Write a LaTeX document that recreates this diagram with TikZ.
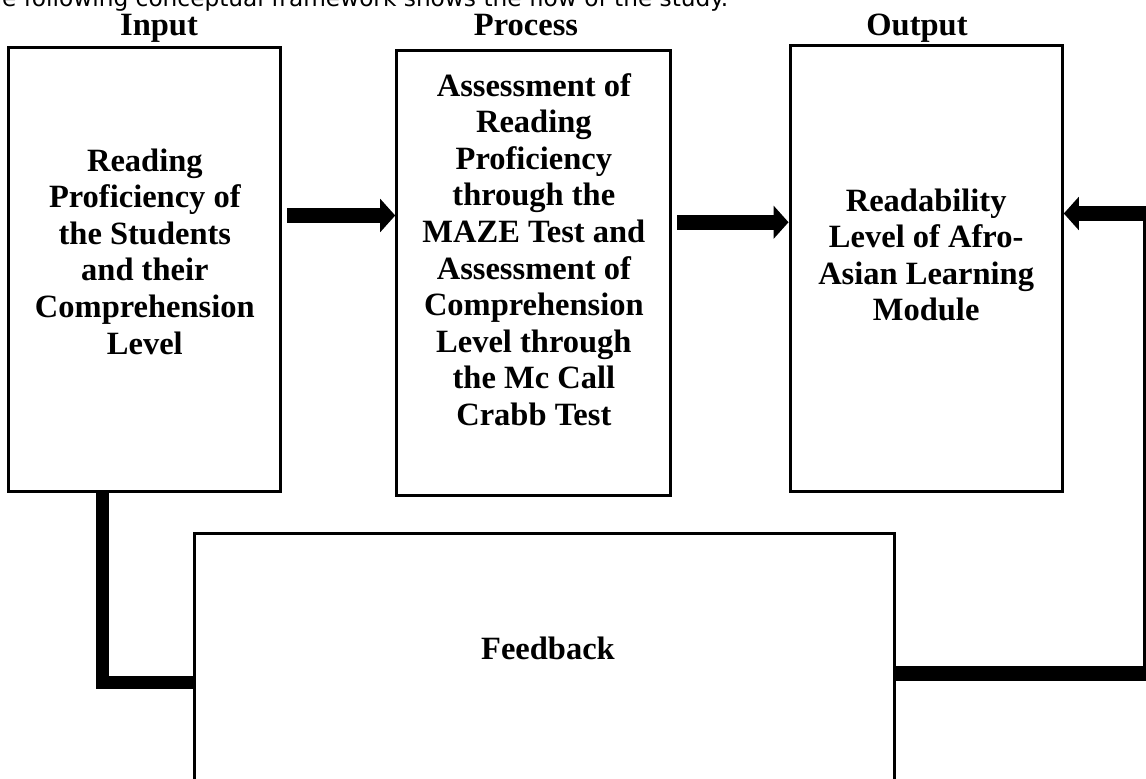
\documentclass[tikz,border=0pt]{standalone}
\usepackage{fontspec}
\setmainfont{Liberation Serif}
\newfontfamily\notefont{DejaVu Sans}
\usetikzlibrary{positioning,arrows.meta}

\begin{document}
\begin{tikzpicture}[x=0.4pt,y=-0.4pt,
        framenode/.style={rectangle, draw=black, line width=1.2pt, inner sep=0pt},
        boxtext/.style={align=center, font=\bfseries\fontsize{13}{14.64}\selectfont},
        headtext/.style={font=\bfseries\fontsize{13}{14.64}\selectfont, anchor=base},
        bigarrow/.style={line width=6pt, -{Triangle[length=6pt,width=13pt]}},
        bigline/.style={line width=5.2pt}]
        \useasboundingbox (0,0) rectangle (1146,779);
        \node[font=\notefont\fontsize{9.3}{11}\selectfont, anchor=base east] (note) at (737,7) {The following conceptual framework shows the flow of the study.};
        % the three columns
        \node[framenode, minimum width=108.9pt, minimum height=177.8pt] (input) at (144.85,269.5) {};
        \node[framenode, minimum width=109.7pt, minimum height=177.8pt] (process) at (533.85,273.25) {};
        \node[framenode, minimum width=108.9pt, minimum height=178.3pt] (output) at (926.15,268.85) {};
        \node[framenode, minimum width=279.9pt, minimum height=128pt, anchor=north west] (feedback) at (193,532) {};
        \node[headtext] (inputhead) at (159,36) {Input};
        \node[headtext] (processhead) at (526,36) {Process};
        \node[headtext] (outputhead) at (917,36) {Output};
        \node[boxtext] (inputtext) at ([shift={(0,-18)}]input.center) {Reading\\Proficiency of\\the Students\\and their\\Comprehension\\Level};
        \node[boxtext] (processtext) at ([shift={(0,-23.75)}]process.center) {Assessment of\\Reading\\Proficiency\\through the\\MAZE Test and\\Assessment of\\Comprehension\\Level through\\the Mc Call\\Crabb Test};
        \node[boxtext] (outputtext) at ([shift={(0,-14)}]output.center) {Readability\\Level of Afro-\\Asian Learning\\Module};
        \node[boxtext] (feedbacktext) at (548,648) {Feedback};
        % connectors
        \draw[bigarrow] ([shift={(5,-54)}]input.east) coordinate (a1) -- (a1 -| process.west);
        \draw[bigarrow] ([shift={(5,-51)}]process.east) coordinate (a2) -- (a2 -| output.west);
        \coordinate (rturn) at (1150,213.5);
        \draw[bigarrow] ([shift={(0,141)}]feedback.north east) -| (rturn) -- (rturn -| output.east);
        \draw[bigline] ([shift={(-42.35,0)}]input.south) |- ([shift={(0,150)}]feedback.north west);
\end{tikzpicture}
\end{document}
